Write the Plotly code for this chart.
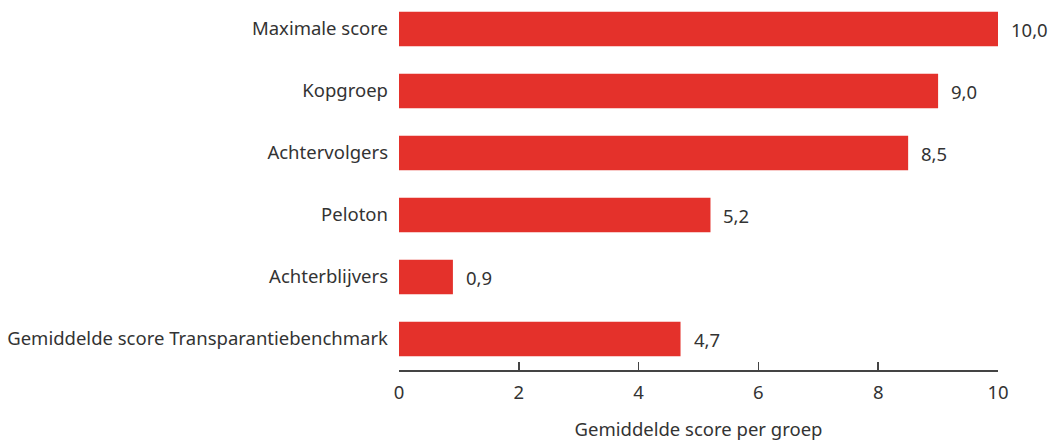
import plotly.graph_objects as go

categories = ["Gemiddelde score Transparantiebenchmark", "Achterblijvers", "Peloton",
              "Achtervolgers", "Kopgroep", "Maximale score"]
values = [4.7, 0.9, 5.2, 8.5, 9.0, 10.0]
value_labels = [f"{v:.1f}".replace(".", ",") for v in values]
x_ticks = [0, 2, 4, 6, 8, 10]

RED = "#e4312b"
TXT = "#333333"
FONT = "Noto Sans"
FS = 18.5

fig = go.Figure()
fig.add_trace(go.Bar(
    x=values, y=categories, orientation="h",
    marker=dict(color=RED, line=dict(width=0)),
    hoverinfo="skip",
))

for v, c, lab in zip(values, categories, value_labels):
    fig.add_annotation(x=v, y=c, text=lab, showarrow=False, xanchor="left",
                       xshift=11, font=dict(family=FONT, size=FS, color=TXT))

fig.update_layout(
    width=1050, height=443,
    margin=dict(l=399, r=52, t=0, b=73),
    plot_bgcolor="white", paper_bgcolor="white",
    bargap=0.44,
    showlegend=False,
    font=dict(family=FONT, size=FS, color=TXT),
)
fig.update_xaxes(
    range=[0, 10], tickvals=x_ticks, ticktext=[str(t) for t in x_ticks],
    showgrid=False, zeroline=False,
    showline=True, linecolor="#444444", linewidth=1.5,
    ticks="inside", ticklen=8, tickcolor="#444444", tickwidth=1.5,
    ticklabelstandoff=5,
    title=dict(text="Gemiddelde score per groep", standoff=20,
               font=dict(family=FONT, size=FS, color=TXT)),
)
fig.update_yaxes(
    range=[-0.5, 5.468], showgrid=False, zeroline=False, showline=False,
    ticks="", ticklabelstandoff=10,
)

fig.write_html(
    "out.html",
    config={"displayModeBar": False, "staticPlot": True},
    post_script="document.body.style.margin='0';document.body.style.overflow='hidden';",
)
